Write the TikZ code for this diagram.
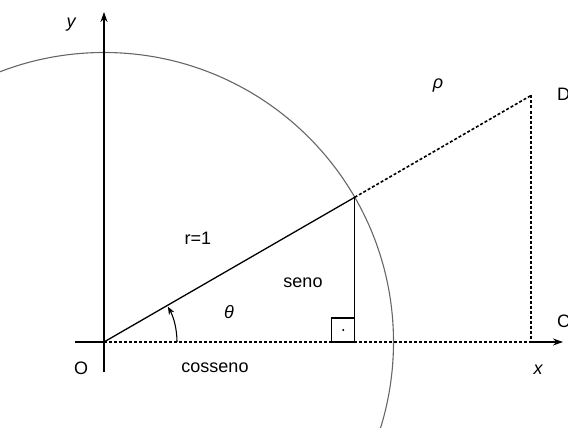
\documentclass[tikz,border=0pt]{standalone}
\usepackage{fontspec}
\setmainfont{Liberation Sans}
\usetikzlibrary{arrows.meta,calc}
\begin{document}
\begin{tikzpicture}[x=1pt,y=-1pt,
  lbl/.style={font=\fontsize{18}{20}\selectfont, inner sep=0pt},
  ilbl/.style={font=\fontsize{18}{20}\selectfont\itshape, inner sep=0pt},
  axisline/.style={line width=1.1pt},
  axisarrow/.style={line width=1.1pt,-{Stealth[length=10pt,width=7pt]}},
  dotline/.style={line width=1.6pt, dash pattern=on 3pt off 2pt},
  solidline/.style={line width=1.3pt},
  circ/.style={draw=black!60, line width=1.1pt}]
\useasboundingbox (0,0) rectangle (568,428);
\coordinate (O) at (104,342);
\coordinate (P) at (354.7,197.3);
\coordinate (D) at (531,95.5);
\coordinate (C) at (531,342);
\coordinate (F) at (354.7,342);
\coordinate (XL) at (75,342);
\coordinate (XR) at (563,342);
\coordinate (YB) at (104,372);
\coordinate (YT) at (104,12);
\coordinate (A0) at (177,342);
\coordinate (RC) at ($(F)+(-11.5,-12)$);
\begin{scope}
\clip (0,0) rectangle (568,428);
\draw[circ] (O) circle (289.5);
\end{scope}
% axes
\draw[axisarrow] (YB) -- (YT);
\draw[axisline] (XL) -- (O);
\draw[axisarrow] (C) -- (XR);
\draw[dotline] (O) -- (C);
% triangle
\draw[solidline] (O) -- (P);
\draw[dotline] (P) -- (D);
\draw[dotline] (D) -- (C);
\draw[solidline] (P) -- (F);
\draw[line width=1.1pt] (F) rectangle ++(-23,-24);
\fill (RC) circle (1.2pt);
% angle
\draw[line width=1.1pt,-{Stealth[length=8pt,width=6pt]}] (A0) arc[start angle=0,end angle=-29,radius=73];
% labels
\node[ilbl] (ly) at (71,25) {y};
\node[ilbl] (lx) at (538,370) {x};
\node[lbl] (lO) at (81,368) {O};
\node[lbl] (lcos) at (215,368) {cosseno};
\node[lbl] (lsen) at (303,283) {seno};
\node[ilbl] (lth) at (229,312) {θ};
\node[lbl] (lr) at (198,238) {r=1};
\node[ilbl] (lrho) at (438,86) {ρ};
\node[lbl,anchor=west] (lD) at (557,94) {D};
\node[lbl,anchor=west] (lC) at (557,321) {C};
\end{tikzpicture}
\end{document}
